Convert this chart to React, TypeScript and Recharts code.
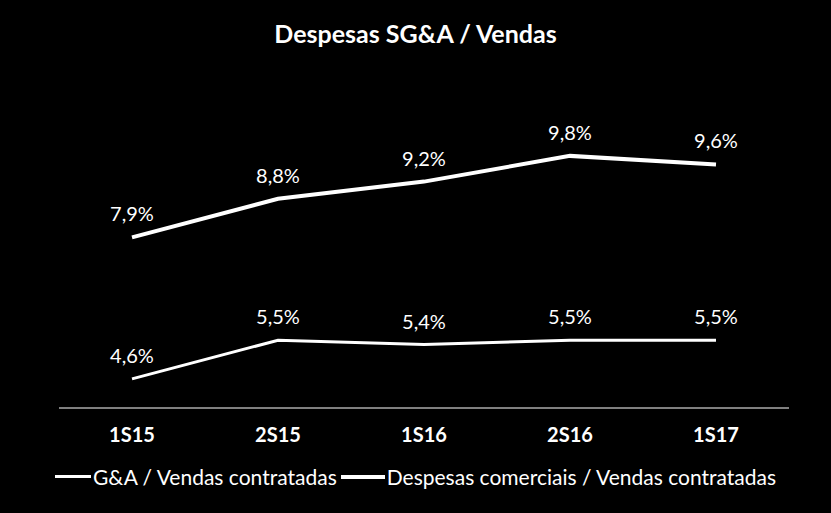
import React from "react";
import { LineChart, Line, XAxis, YAxis, LabelList } from "recharts";

const categories = ["1S15", "2S15", "1S16", "2S16", "1S17"];
const gaVendas = [4.6, 5.5, 5.4, 5.5, 5.5];
const comerciaisVendas = [7.9, 8.8, 9.2, 9.8, 9.6];
const seriesNames = ["G&A / Vendas contratadas", "Despesas comerciais / Vendas contratadas"];

const data = categories.map((c, i) => ({
  name: c,
  ga: gaVendas[i],
  comerciais: comerciaisVendas[i],
}));

const fmt = (v: any) => `${Number(v).toFixed(1).replace(".", ",")}%`;
const FONT = "Lato, 'Open Sans', sans-serif";

export default function App() {
  return (
    <div style={{ position: "absolute", left: 0, top: 0, width: 831, height: 513, background: "#000", fontFamily: FONT }}>
      <div
        style={{
          position: "absolute",
          top: 18,
          left: 0,
          width: 831,
          textAlign: "center",
          color: "#fff",
          fontWeight: "bold",
          fontSize: 25,
        }}
      >
        Despesas SG&amp;A / Vendas
      </div>
      <LineChart width={831} height={513} data={data} margin={{ top: 110, right: 42, left: 59, bottom: 65 }}>
        <XAxis
          dataKey="name"
          axisLine={{ stroke: "#fff", strokeWidth: 1 }}
          tickLine={false}
          height={40}
          padding={{ left: 73, right: 73 }}
          tick={{ fill: "#fff", fontSize: 20, fontWeight: "bold", fontFamily: FONT }}
          tickMargin={14}
        />
        <YAxis hide domain={[3.92, 10.87]} />
        <Line
          dataKey="ga"
          name={seriesNames[0]}
          stroke="#fff"
          strokeWidth={3}
          dot={false}
          isAnimationActive={false}
        >
          <LabelList dataKey="ga" position="top" offset={16} fill="#fff" fontSize={20} fontFamily={FONT} formatter={fmt} />
        </Line>
        <Line
          dataKey="comerciais"
          name={seriesNames[1]}
          stroke="#fff"
          strokeWidth={4}
          dot={false}
          isAnimationActive={false}
        >
          <LabelList dataKey="comerciais" position="top" offset={16} fill="#fff" fontSize={20} fontFamily={FONT} formatter={fmt} />
        </Line>
      </LineChart>
      <div
        style={{
          position: "absolute",
          top: 464,
          left: 0,
          width: 831,
          display: "flex",
          justifyContent: "center",
          alignItems: "center",
          color: "#fff",
          fontSize: 21,
        }}
      >
        {seriesNames.map((n, i) => (
          <span key={n} style={{ display: "flex", alignItems: "center", marginLeft: i ? 4 : 0 }}>
            <span style={{ display: "inline-block", width: i ? 44 : 36, height: i ? 4 : 3, background: "#fff", marginRight: 2 }} />
            {n}
          </span>
        ))}
      </div>
    </div>
  );
}
